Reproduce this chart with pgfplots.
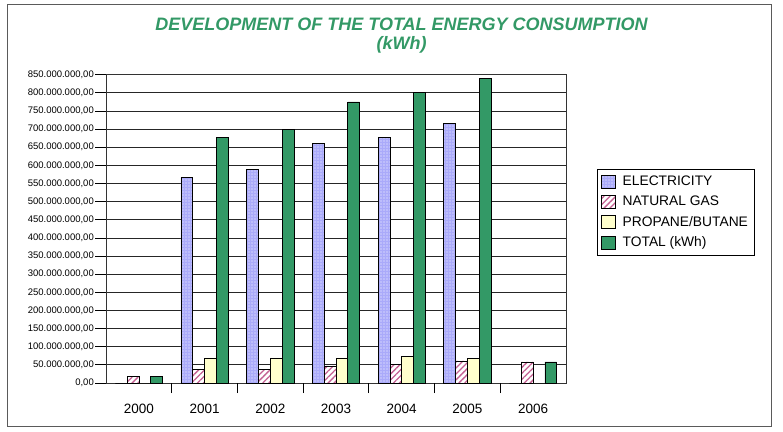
\documentclass[border=0pt]{standalone}
\usepackage{fontspec}
\setmainfont{Liberation Sans}
\usepackage{pgfplots}
\pgfplotsset{compat=1.18}
\usetikzlibrary{patterns,patterns.meta}
\definecolor{elec}{RGB}{170,170,250}
\definecolor{gaspk}{RGB}{196,96,146}
\definecolor{prop}{RGB}{255,255,204}
\definecolor{totg}{RGB}{51,153,102}
\definecolor{frame}{RGB}{90,90,90}

% values in kWh
\pgfplotstableread{
x elec gas prop total
0 0 19000000 0 19000000
1 567000000 37000000 69000000 676000000
2 590000000 37000000 69000000 698000000
3 661000000 47000000 69000000 775000000
4 676000000 51000000 74000000 801000000
5 715000000 61000000 68000000 839000000
6 0 58000000 0 58000000
}\energy

\begin{document}
\begin{tikzpicture}
\useasboundingbox (0bp,0bp) rectangle (783bp,-432bp);
\draw[frame, line width=1bp] (7bp,-4bp) rectangle (771bp,-426bp);
\node[anchor=base, text=totg, font=\fontsize{18bp}{20bp}\selectfont\bfseries\itshape]
  at (401.5bp,-30.7bp) {DEVELOPMENT OF THE TOTAL ENERGY CONSUMPTION};
\node[anchor=base, text=totg, font=\fontsize{18bp}{20bp}\selectfont\bfseries\itshape]
  at (401.5bp,-49bp) {(kWh)};
\begin{axis}[
  at={(106bp,-383bp)}, anchor=south west,
  scale only axis, width=460bp, height=308.3bp,
  ybar=0pt, bar width=11.8bp,
  xmin=-0.5, xmax=6.5, ymin=0, ymax=850000000,
  xtick={0,1,2,3,4,5,6},
  xticklabels={2000,2001,2002,2003,2004,2005,2006},
  xtick style={draw=none},
  extra x ticks={0.5,1.5,2.5,3.5,4.5,5.5},
  extra x tick labels={},
  extra x tick style={xtick style={draw=black, line width=0.8bp}, major tick length=10bp, tick align=outside, xmajorgrids=false},
  ytick={0,5e7,1e8,1.5e8,2e8,2.5e8,3e8,3.5e8,4e8,4.5e8,5e8,5.5e8,6e8,6.5e8,7e8,7.5e8,8e8,8.5e8},
  scaled y ticks=false,
  tick align=outside, tick pos=left,
  major tick length=11bp,
  ytick style={line width=0.8bp, black},
  ymajorgrids, major grid style={black!85, line width=0.8bp},
  axis line style={black!80, line width=0.8bp},
  yticklabel style={font=\fontsize{9.5bp}{11bp}\selectfont, inner sep=1bp,
    /pgf/number format/.cd, fixed, fixed zerofill, precision=2, use comma, 1000 sep={.}, assume math mode=true},
  xticklabel style={font=\fontsize{13.5bp}{15bp}\selectfont, inner sep=0pt, yshift=-10bp},
  legend style={at={(rel axis cs:1.0667,0.693)}, anchor=north west, draw=black, line width=0.6bp,
    font=\fontsize{13.8bp}{15bp}\selectfont, inner xsep=4bp, inner ysep=4.5bp, row sep=5bp,
    /tikz/every odd column/.append style={column sep=5bp}},
  legend cell align=left,
  legend image code/.code={\draw[#1] (0bp,-6.5bp) rectangle (14bp,6.5bp);},
  every axis plot/.append style={draw=black, line width=0.7bp},
]
\addplot[fill=elec, postaction={pattern={Dots[distance=3bp,radius=0.7bp]}, pattern color=white}] table[x=x,y=elec] {\energy};
\addplot[fill=white, postaction={pattern={Lines[angle=45,distance=4.2bp,line width=1.3bp]}, pattern color=gaspk}] table[x=x,y=gas] {\energy};
\addplot[fill=prop] table[x=x,y=prop] {\energy};
\addplot[fill=totg] table[x=x,y=total] {\energy};
\legend{ELECTRICITY,NATURAL GAS,PROPANE/BUTANE,TOTAL (kWh)}
\end{axis}
\end{tikzpicture}
\end{document}
